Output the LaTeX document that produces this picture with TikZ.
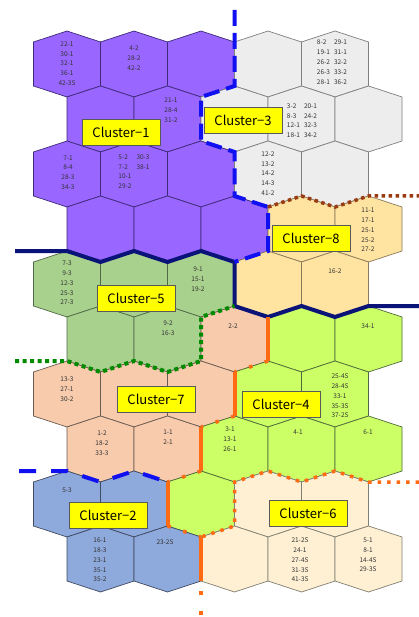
\documentclass[tikz,border=0pt]{standalone}
\usepackage{fontspec}
\setmainfont{Noto Sans CJK JP}
\definecolor{cA}{HTML}{9966FF}
\definecolor{cAd}{HTML}{3F2A7A}
\definecolor{cC}{HTML}{EDEDED}
\definecolor{cCd}{HTML}{7F7F7F}
\definecolor{cH}{HTML}{FFE3A0}
\definecolor{cHd}{HTML}{8A7A5A}
\definecolor{cE}{HTML}{A9D18E}
\definecolor{cEd}{HTML}{4F6A45}
\definecolor{cG}{HTML}{F8CBAD}
\definecolor{cGd}{HTML}{6A5A50}
\definecolor{cD}{HTML}{CCFF66}
\definecolor{cDd}{HTML}{4F6A3A}
\definecolor{cB}{HTML}{8EA9DB}
\definecolor{cBd}{HTML}{404A60}
\definecolor{cF}{HTML}{FFF0D4}
\definecolor{cFd}{HTML}{7F7F72}
\definecolor{navy}{HTML}{0A1478}
\definecolor{bdash}{HTML}{1010F0}
\definecolor{brown}{HTML}{9A3A10}
\definecolor{gdot}{HTML}{008A00}
\definecolor{orng}{HTML}{FF6A13}
\definecolor{lblfill}{HTML}{FFFF00}
\begin{document}
\begin{tikzpicture}[x=1pt,y=-1pt,
  pics/hexcell/.style={code={\path[pic actions] (0,-33) -- (33.5,-22) -- (33.5,22) -- (0,33) -- (-33.5,22) -- (-33.5,-22) -- cycle;}},
  c1/.style={fill=cA,draw=cAd,line width=0.7pt},
  c3/.style={fill=cC,draw=cCd,line width=0.7pt},
  c8/.style={fill=cH,draw=cHd,line width=0.7pt},
  c5/.style={fill=cE,draw=cEd,line width=0.7pt},
  c7/.style={fill=cG,draw=cGd,line width=0.7pt},
  c4/.style={fill=cD,draw=cDd,line width=0.7pt},
  c2/.style={fill=cB,draw=cBd,line width=0.7pt},
  c6/.style={fill=cF,draw=cFd,line width=0.7pt},
  navyline/.style={draw=navy,line width=4pt,line join=miter},
  bluedash/.style={draw=bdash,line width=4pt,dash pattern=on 16pt off 7pt},
  bluedashb/.style={draw=bdash,line width=4pt,dash pattern=on 17pt off 15pt},
  browndot/.style={draw=brown,line width=3.5pt,dash pattern=on 3.5pt off 3.5pt},
  greendot/.style={draw=gdot,line width=4pt,dash pattern=on 4pt off 3.5pt},
  orangesolid/.style={draw=orng,line width=4pt},
  orangesparse/.style={draw=orng,line width=3.5pt,dash pattern=on 3.5pt off 13pt},
  orangedot/.style={draw=orng,line width=3.5pt,dash pattern=on 3.5pt off 6pt},
  hx/.style={font=\fontsize{6.5}{9.8}\selectfont,align=center,inner sep=0pt,text=black!80},
  lbl/.style={fill=lblfill,draw=black!65,line width=0.6pt,minimum width=78pt,minimum height=26pt,inner sep=0pt,font=\fontsize{13}{13}\selectfont}
]
\useasboundingbox (0,0) rectangle (419,617);
\fill[white] (0,0) rectangle (419,617);
% hexagon grid
\foreach \x/\y/\s in {
  67/64/c1, 134/64/c1, 201/64/c1, 268/64/c3, 335/64/c3,
  100.5/119/c1, 167.5/119/c1, 234.5/119/c3, 301.5/119/c3, 368.5/119/c3,
  67/174/c1, 134/174/c1, 201/174/c1, 268/174/c3, 335/174/c3,
  100.5/229/c1, 167.5/229/c1, 234.5/229/c1, 301.5/229/c8, 368.5/229/c8,
  67/284/c5, 134/284/c5, 201/284/c5, 268/284/c8, 335/284/c8,
  100.5/339/c5, 167.5/339/c5, 234.5/339/c7, 301.5/339/c4, 368.5/339/c4,
  67/394/c7, 134/394/c7, 201/394/c7, 268/394/c4, 335/394/c4,
  100.5/449/c7, 167.5/449/c7, 234.5/449/c4, 301.5/449/c4, 368.5/449/c4,
  67/504/c2, 134/504/c2, 201/504/c4, 268/504/c6, 335/504/c6,
  100.5/559/c2, 167.5/559/c2, 234.5/559/c6, 301.5/559/c6, 368.5/559/c6}
  {\edef\tmp{\noexpand\pic[\s] at (\x,\y) {hexcell};}\tmp}
% boundaries
\draw[navyline] (15,251) -- (67,251) -- (100.5,262) -- (134,251) -- (167.5,262) -- (201,251) -- (234.5,262) -- (234.5,306) -- (268,317) -- (301.5,306) -- (335,317) -- (368.5,306) -- (419,306);
\draw[bluedash] (234.5,10) -- (234.5,86) -- (201,97) -- (201,141) -- (234.5,152) -- (234.5,196) -- (268,207) -- (268,251) -- (234.5,262);
\draw[browndot] (268,207) -- (301.5,196) -- (335,207) -- (368.5,196) -- (419,196);
\draw[greendot] (15,361) -- (67,361) -- (100.5,372) -- (134,361) -- (167.5,372) -- (201,361) -- (201,317) -- (234.5,306);
\draw[orangedot] (419,482) -- (368.5,482) -- (335,471) -- (301.5,482) -- (268,471) -- (234.5,482) -- (234.5,526) -- (201,537);
\draw[bluedashb] (19,471) -- (67,471) -- (100.5,482) -- (134,471) -- (167.5,482);
\draw[orangesolid] (268,317) -- (268,361);
\draw[orangesparse] (268,361) -- (234.5,372);
\draw[orangesolid] (234.5,372) -- (234.5,416);
\draw[orangesparse] (234.5,416) -- (201,427);
\draw[orangesolid] (201,427) -- (201,471);
\draw[orangesparse] (201,471) -- (167.5,482);
\draw[orangesolid] (167.5,482) -- (167.5,526);
\draw[orangesparse] (167.5,526) -- (201,537);
\draw[orangesolid] (201,537) -- (201,581);
\draw[draw=orng,line width=3.5pt,dash pattern=on 4pt off 16pt] (201,591) -- (201,617);
% hex texts
\node[hx] (t00) at (67,63.5) {22-1\\30-1\\32-1\\36-1\\42-3S};
\node[hx] (t01) at (134,58) {4-2\\28-2\\42-2};
\node[hx] (t04) at (332,62.5) {\begin{tabular}{@{}l@{\hspace{4pt}}l@{}}8-2&29-1\\19-1&31-1\\26-2&32-2\\26-3&33-2\\28-1&36-2\end{tabular}};
\node[hx] (t11) at (171,110) {21-1\\28-4\\31-2};
\node[hx] (t13) at (302,121) {\begin{tabular}{@{}l@{\hspace{4pt}}l@{}}3-2&20-1\\8-3&24-2\\12-1&32-3\\18-1&34-2\end{tabular}};
\node[hx] (t20) at (68,172.5) {7-1\\8-4\\28-3\\34-3};
\node[hx] (t21) at (134,172) {\begin{tabular}{@{}l@{\hspace{5pt}}l@{}}5-2&30-3\\7-2&38-1\\10-1&\\29-2&\end{tabular}};
\node[hx] (t23) at (268,173.5) {12-2\\13-2\\14-2\\14-3\\41-2};
\node[hx] (t34) at (368,230) {11-1\\17-1\\25-1\\25-2\\27-2};
\node[hx] (t40) at (67,283) {7-3\\9-3\\12-3\\25-3\\27-3};
\node[hx] (t42) at (198,279) {9-1\\15-1\\19-2};
\node[hx] (t44) at (335,271) {16-2};
\node[hx] (t51) at (168,328) {9-2\\16-3};
\node[hx] (t52) at (233,326) {2-2};
\node[hx] (t54) at (368,326) {34-1};
\node[hx] (t60) at (67,389) {13-3\\27-1\\30-2};
\node[hx] (t64) at (340,396) {25-4S\\28-4S\\33-1\\35-3S\\37-2S};
\node[hx] (t70) at (102,443) {1-2\\18-2\\33-3};
\node[hx] (t71) at (168,437) {1-1\\2-1};
\node[hx] (t72) at (230,439) {3-1\\13-1\\26-1};
\node[hx] (t73) at (298,432) {4-1};
\node[hx] (t74) at (368,432) {6-1};
\node[hx] (t80) at (67,490) {5-3};
\node[hx] (t90) at (100,560) {16-1\\18-3\\23-1\\35-1\\35-2};
\node[hx] (t91) at (165,542) {23-2S};
\node[hx] (t93) at (300,560) {21-2S\\24-1\\27-4S\\31-3S\\41-3S};
\node[hx] (t94) at (368,555) {5-1\\8-1\\14-4S\\29-3S};
% cluster labels
\node[lbl] (L1) at (121,132) {Cluster−1};
\node[lbl] (L3) at (243,120) {Cluster−3};
\node[lbl] (L8) at (311,238) {Cluster−8};
\node[lbl] (L5) at (136,298) {Cluster−5};
\node[lbl] (L7) at (156,399) {Cluster−7};
\node[lbl] (L4) at (281,404) {Cluster−4};
\node[lbl] (L2) at (108,515) {Cluster−2};
\node[lbl] (L6) at (308,513) {Cluster−6};
\end{tikzpicture}
\end{document}
